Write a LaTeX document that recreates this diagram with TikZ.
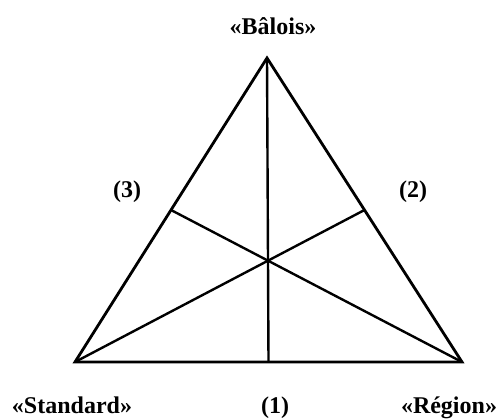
\documentclass[tikz,border=0pt]{standalone}
\usepackage{fontspec}
\setmainfont{Liberation Serif}
\usetikzlibrary{calc}
\tikzset{every node/.style={font=\bfseries\fontsize{24}{28}\selectfont},line cap=round,line join=round}

\begin{document}
\begin{tikzpicture}[x=1pt,y=1pt]
  \path[use as bounding box] (0,0) rectangle (502,418);
  % corners of the triangle
  \coordinate (baloi) at (267,360);
  \coordinate (stand) at (75,56);
  \coordinate (regio) at (462,56);
  \coordinate (m1) at ($(stand)!0.5!(regio)$);
  \coordinate (m2) at ($(baloi)!0.5!(regio)$);
  \coordinate (m3) at ($(baloi)!0.5!(stand)$);
  \draw[line width=2.8pt] (baloi) -- (stand) -- (regio) -- cycle;
  \draw[line width=2.4pt] (baloi) -- (m1);
  \draw[line width=2.4pt] (stand) -- (m2);
  \draw[line width=2.4pt] (regio) -- (m3);
  \node[anchor=base] (lbaloi) at (273,383) {«Bâlois»};
  \node[anchor=base] (lstand) at (72,5) {«Standard»};
  \node[anchor=base] (lregio) at (449,5) {«Région»};
  \node[anchor=base] (l1) at (275,5) {(1)};
  \node (l2) at (413,226) {(2)};
  \node (l3) at (127,226) {(3)};
\end{tikzpicture}
\end{document}
